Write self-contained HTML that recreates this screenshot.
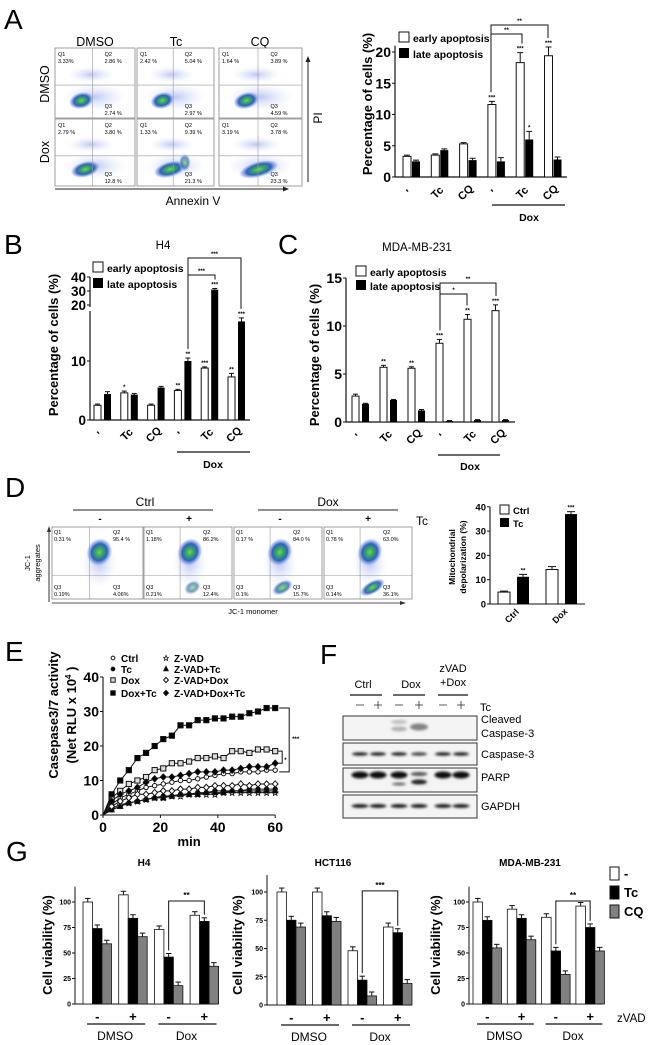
<!DOCTYPE html>
<html><head><meta charset="utf-8">
<style>
html,body{margin:0;padding:0;background:#fff;}
svg{display:block;font-family:"Liberation Sans",Arial,sans-serif;}
.b{font-weight:bold;}
</style></head>
<body>
<svg id="fig" width="650" height="1045" viewBox="0 0 650 1045" xmlns="http://www.w3.org/2000/svg">
<defs>
<radialGradient id="blob" cx="50%" cy="50%" r="50%">
<stop offset="0" stop-color="#7fd23a"/><stop offset="0.3" stop-color="#2fa860"/><stop offset="0.6" stop-color="#2f5fc8"/><stop offset="0.85" stop-color="#8fa6e6" stop-opacity="0.6"/><stop offset="1" stop-color="#c8d4f4" stop-opacity="0"/>
</radialGradient>
<radialGradient id="haze" cx="50%" cy="50%" r="50%">
<stop offset="0" stop-color="#9fb0ea" stop-opacity="0.7"/><stop offset="1" stop-color="#dfe6fa" stop-opacity="0"/>
</radialGradient>
<filter id="blur" x="-50%" y="-50%" width="200%" height="200%"><feGaussianBlur stdDeviation="1.4"/></filter>
</defs>

<text x="4" y="29" font-size="28">A</text>
<text x="4" y="254" font-size="28">B</text>
<text x="278" y="254" font-size="28">C</text>
<text x="5" y="497" font-size="28">D</text>
<text x="5" y="661" font-size="28">E</text>
<text x="320" y="664" font-size="28">F</text>
<text x="6" y="861" font-size="28">G</text>

<text x="95" y="46" font-size="12.5" text-anchor="middle">DMSO</text>
<text x="176" y="46" font-size="12.5" text-anchor="middle">Tc</text>
<text x="260" y="46" font-size="12.5" text-anchor="middle">CQ</text>
<text transform="translate(49,84) rotate(-90)" font-size="12.5" text-anchor="middle">DMSO</text>
<text transform="translate(49,152) rotate(-90)" font-size="12.5" text-anchor="middle">Dox</text>
<line x1="55" y1="189" x2="285" y2="189" stroke="#222" stroke-width="1"/>
<path d="M289,189 L283,186.5 L283,191.5Z" fill="#222"/>
<text x="193" y="205" font-size="12" text-anchor="middle">Annexin V</text>
<line x1="308" y1="182" x2="308" y2="61" stroke="#222" stroke-width="1"/>
<path d="M308,56 L305.5,62 L310.5,62Z" fill="#222"/>
<text transform="translate(322,118) rotate(-90)" font-size="12" text-anchor="middle">PI</text>

<text x="163" y="249" font-size="11.5" text-anchor="middle">H4</text>
<text x="417" y="251" font-size="11.5" text-anchor="middle">MDA-MB-231</text>

<text x="145" y="506" font-size="12" text-anchor="middle">Ctrl</text>
<line x1="73" y1="510" x2="213" y2="510" stroke="#222" stroke-width="1"/>
<text x="328" y="506" font-size="12" text-anchor="middle">Dox</text>
<line x1="258" y1="510" x2="398" y2="510" stroke="#222" stroke-width="1"/>
<text x="100" y="522" font-size="10" class="b" text-anchor="middle">-</text>
<text x="189" y="522" font-size="10" class="b" text-anchor="middle">+</text>
<text x="280" y="522" font-size="10" class="b" text-anchor="middle">-</text>
<text x="368" y="522" font-size="10" class="b" text-anchor="middle">+</text>
<text x="422" y="525" font-size="12" text-anchor="middle">Tc</text>
<line x1="52" y1="603" x2="402" y2="603" stroke="#555" stroke-width="1"/>
<path d="M406,603 L400,601 L400,605Z" fill="#333"/>
<text x="253" y="614" font-size="7.5" text-anchor="middle">JC-1 monomer</text>
<line x1="49" y1="602" x2="49" y2="531" stroke="#333" stroke-width="1"/>
<path d="M49,526 L47,532 L51,532Z" fill="#333"/>
<text transform="translate(30,563) rotate(-90)" font-size="7.5" text-anchor="middle">JC-1</text>
<text transform="translate(40,563) rotate(-90)" font-size="7.5" text-anchor="middle">aggregates</text>

<g id="flowA"></g>
<g id="chartA"></g>
<g id="chartB"></g>
<g id="chartC"></g>
<g id="flowD"></g>
<g id="chartD"></g>
<g id="chartE"></g>
<g id="blotF"></g>
<g id="chartG"></g>
</svg>

<script>
const aCategories=['-','Tc','CQ','-','Tc','CQ'];
const aEarly=[3.3,3.5,5.3,11.6,18.3,19.4];
const aLate=[2.5,4.3,2.7,2.5,6.0,2.8];
const aEarlyErr=[0.2,0.2,0.2,0.5,1.6,1.4];
const aLateErr=[0.2,0.2,0.3,0.6,1.3,0.4];
const aEarlyStars=['','','','***','***','***'];
const aLateStars=['','','','','*',''];
const aTicks=[0,5,10,15,20];

const bCategories=['-','Tc','CQ','-','Tc','CQ'];
const bEarly=[2.5,4.6,2.5,5.0,8.8,7.3];
const bLate=[4.4,4.3,5.5,10.0,31,16.7];
const bEarlyErr=[0.2,0.3,0.2,0.2,0.2,0.6];
const bLateErr=[0.4,0.2,0.2,0.5,0.8,0.6];
const bEarlyStars=['','*','','**','***','**'];
const bLateStars=['','','','**','***','***'];
const bTicks=[0,10,20,30,40];

const cCategories=['-','Tc','CQ','-','Tc','CQ'];
const cEarly=[2.7,5.7,5.6,8.2,10.7,11.6];
const cLate=[1.9,2.3,1.2,0.1,0.2,0.2];
const cEarlyErr=[0.2,0.2,0.15,0.4,0.5,0.6];
const cLateErr=[0.05,0.05,0.1,0.05,0.05,0.05];
const cEarlyStars=['','**','**','***','**','***'];
const cTicks=[0,5,10,15];

const dCategories=['Ctrl','Dox'];
const dCtrl=[4.9,14.2];
const dTc=[11.2,37.0];
const dCtrlErr=[0.4,1.2];
const dTcErr=[1.0,1.0];
const dTcStars=['**','***'];
const dTicks=[0,10,20,30,40];

const eTimes=[0,3,6,9,12,15,18,21,24,27,30,33,36,39,42,45,48,51,54,57,60];
const eCtrl=[0,3,5,6,7,8,8.5,9,9.5,10,10,10.5,11,11.5,12,12,12.5,12.5,12.5,13,13];
const eTc=[0,1.5,2.5,3.5,4,4.5,5,5.5,5.5,6,6,6.5,6.5,7,7,7,7,7.5,7.5,7.5,7.5];
const eDox=[0,5,7,9,10,11,13,13.5,15,15,15.5,16.5,16.5,17,16.5,18.5,18.5,18,19,19,18.5];
const eDoxTc=[0,6,10,13,16.5,18,20,22,23,26,26,27.5,27.5,28,28,28.5,28.5,29.5,30,31,31];
const eZvad=[0,2,3,3.5,4,4.5,5,5,5.5,5.5,6,6,6,6,6.5,6.5,6.5,6.5,6.5,6.5,6.5];
const eZvadTc=[0,1.5,2.5,3.5,4,4.5,5,5,5.5,6,6,6,6.5,6.5,6.5,7,7,7,7,7,7];
const eZvadDox=[0,2.5,4,5,6,6,6.5,7,7,7.5,7.5,8,8,8.5,8.5,8.5,9,8.5,9,9,9];
const eZvadDoxTc=[0,4,6,7,8,9.5,10.5,11,11,11.5,12,12.5,12.5,12.5,13,13,13.5,14,14,14,15];
const eTicksY=[0,10,20,30,40];
const eTicksX=[0,20,40,60];

const gConditions=['DMSO -','DMSO +','Dox -','Dox +'];
const gH4None=[100,107,73,87];
const gH4Tc=[74,84,46,81];
const gH4CQ=[59,66,18,37];
const gHctNone=[100,100,48,69];
const gHctTc=[75,79,22,64];
const gHctCQ=[69,74,8,19];
const gMdaNone=[100,93,85,96];
const gMdaTc=[82,84,52,75];
const gMdaCQ=[55,63,29,52];
const gTicks=[0,25,50,75,100];

const flowAQ1=['3.33%','2.42 %','1.64 %','2.79 %','1.33 %','3.19 %'];
const flowAQ2=['2.86 %','5.04 %','3.89 %','3.80 %','9.39 %','3.78 %'];
const flowAQ3=['2.74 %','2.97 %','4.59 %','12.8 %','21.3 %','23.3 %'];
const flowDQ1=['0.31 %','1.18%','0.17 %','0.78 %'];
const flowDQ2=['95.4 %','86.2%','84.0 %','63.0%'];
const flowDQ3L=['0.19%','0.21%','0.1%','0.14%'];
const flowDQ3R=['4.06%','12.4%','15.7%','36.1%'];

const NS='http://www.w3.org/2000/svg';
function mk(tag,parent,attrs){const e=document.createElementNS(NS,tag);for(const k in attrs)e.setAttribute(k,attrs[k]);parent.appendChild(e);return e;}
function txt(parent,x,y,s,size,extra){const t=mk('text',parent,Object.assign({x:x,y:y,'font-size':size},extra||{}));t.textContent=s;return t;}
function line(parent,x1,y1,x2,y2,w,c){return mk('line',parent,{x1:x1,y1:y1,x2:x2,y2:y2,stroke:c||'#111','stroke-width':w||1});}

(function(){
  const g=document.getElementById('flowA');
  const cols=[[55,80],[137,77],[219,83]], rows=[[48,70],[119,67]];
  let k=0;
  for(let r=0;r<2;r++)for(let c=0;c<3;c++){
    const x=cols[c][0],w=cols[c][1],y=rows[r][0],h=rows[r][1];
    const box=mk('g',g,{});
    
    
    mk('rect',box,{x:x,y:y,width:w,height:h,fill:'#fff',stroke:'#888','stroke-width':0.8});
    mk('ellipse',box,{cx:x+w*0.45,cy:y+h*0.38,rx:w*0.3,ry:h*0.12,fill:'url(#haze)'});
    mk('ellipse',box,{cx:x+w*0.5,cy:y+h*0.7,rx:w*0.4,ry:h*0.2,fill:'url(#haze)'});
    const shift=(r===1)?0.05*(c+1):0;
    mk('ellipse',box,{cx:x+w*(0.33+shift),cy:y+h*0.75,rx:w*(0.16+shift*0.6),ry:h*0.12,fill:'url(#blob)',transform:'rotate(-15 '+(x+w*(0.33+shift))+' '+(y+h*0.75)+')'});
    if(r===1&&c===1)mk('ellipse',box,{cx:x+w*0.62,cy:y+h*0.65,rx:6,ry:9,fill:'url(#blob)',opacity:0.7});
    line(box,x+w*0.47,y,x+w*0.47,y+h,0.6,'#999');
    const hy=y+h*(r===0?0.53:0.55);
    line(box,x,hy,x+w,hy,0.6,'#999');
    txt(box,x+3,y+8,'Q1',5.5);
    txt(box,x+3,y+15,flowAQ1[k],5.5);
    txt(box,x+w*0.62,y+8,'Q2',5.5);
    txt(box,x+w*0.62,y+15,flowAQ2[k],5.5);
    txt(box,x+w*0.62,y+h-10,'Q3',5.5);
    txt(box,x+w*0.62,y+h-3,flowAQ3[k],5.5);
    k++;
  }
})();

(function(){
  const g=document.getElementById('flowD');
  const xs=[[52,91],[144,88],[234,88],[324,88]], y=527, h=72;
  for(let i=0;i<4;i++){
    const x=xs[i][0],w=xs[i][1];
    const box=mk('g',g,{});
    
    
    mk('rect',box,{x:x,y:y,width:w,height:h,fill:'#fff',stroke:'#888','stroke-width':0.8});
    mk('ellipse',box,{cx:x+w*0.52,cy:y+h*0.5,rx:w*0.2,ry:h*0.35,fill:'url(#haze)'});
    mk('ellipse',box,{cx:x+w*0.52,cy:y+h*0.35,rx:w*0.14,ry:h*0.2,fill:'url(#blob)',transform:'rotate(25 '+(x+w*0.52)+' '+(y+h*0.35)+')'});
    if(i>0)mk('ellipse',box,{cx:x+w*0.55,cy:y+h*0.84,rx:w*(0.07+0.03*i),ry:h*0.09,fill:'url(#blob)',opacity:0.5+0.15*i,transform:'rotate(-30 '+(x+w*0.55)+' '+(y+h*0.84)+')'});
    line(box,x+w*0.41,y,x+w*0.41,y+h,0.6,'#999');
    line(box,x,y+h*0.67,x+w,y+h*0.67,0.6,'#999');
    txt(box,x+2,y+7,'Q1',5.5);
    txt(box,x+2,y+14,flowDQ1[i],5.5);
    txt(box,x+w*0.67,y+7,'Q2',5.5);
    txt(box,x+w*0.67,y+14,flowDQ2[i],5.5);
    txt(box,x+2,y+h-10,'Q3',5.5);
    txt(box,x+2,y+h-3,flowDQ3L[i],5.5);
    txt(box,x+w*0.67,y+h-10,'Q3',5.5);
    txt(box,x+w*0.67,y+h-3,flowDQ3R[i],5.5);
  }
})();

function pairChart(g,cfg){
  const {early,late,eErr,lErr,eStars,lStars,ticks,y,x0,step,bw,axisX,axisEnd,zeroY,cats}=cfg;
  const ax=line(g,axisX,cfg.axisTop,axisX,zeroY,1.2);
  
  
  const xa=line(g,axisX,zeroY,axisEnd,zeroY,1.2);
  
  
  ticks.forEach(t=>{
    const ty=y(t);
    line(g,axisX-3,ty,axisX,ty,1);
    const tl=txt(g,axisX-4,ty+5,String(t),cfg.tickSize||14,{'text-anchor':'end','class':'b'});
    
    
  });
  for(let i=0;i<early.length;i++){
    const xe=x0+i*step, xl=xe+bw+cfg.gap;
    const ye=y(early[i]), yl=y(late[i]);
    const r1=mk('rect',g,{x:xe,y:ye,width:bw,height:zeroY-ye,fill:'#fff',stroke:'#111','stroke-width':1});
    
    
    line(g,xe+bw/2,ye,xe+bw/2,y(early[i]+eErr[i]),1);
    line(g,xe+1,y(early[i]+eErr[i]),xe+bw-1,y(early[i]+eErr[i]),1);
    const r2=mk('rect',g,{x:xl,y:yl,width:bw,height:Math.max(zeroY-yl,1),fill:'#000'});
    
    
    line(g,xl+bw/2,yl,xl+bw/2,y(late[i]+lErr[i]),1);
    line(g,xl+1,y(late[i]+lErr[i]),xl+bw-1,y(late[i]+lErr[i]),1);
    if(eStars&&eStars[i])txt(g,xe+bw/2,y(early[i]+eErr[i])-2,eStars[i],6,{'text-anchor':'middle','class':'b'});
    if(lStars&&lStars[i])txt(g,xl+bw/2,y(late[i]+lErr[i])-2,lStars[i],6,{'text-anchor':'middle','class':'b'});
    const cx=xe+bw+cfg.gap/2, cy=zeroY+cfg.labOff;
    const cl=txt(g,cx,cy,cats[i]==='-'?'\'':cats[i],cfg.catSize||11,{'text-anchor':'middle','class':'b',transform:'rotate(-45 '+cx+' '+cy+')'});
    
    
  }
}
function legendPair(g,x,y1,y2,size){
  mk('rect',g,{x:x,y:y1-size+1,width:size-1,height:size-1,fill:'#fff',stroke:'#111','stroke-width':1});
  const l1=txt(g,x+size+3,y1,'early apoptosis',size*0.95,{'class':'b'});
  
  
  mk('rect',g,{x:x,y:y2-size+1,width:size-1,height:size-1,fill:'#000'});
  const l2=txt(g,x+size+3,y2,'late apoptosis',size*0.95,{'class':'b'});
  
  
}
function bracket(g,x1,x2,yTop,yA,yB,label){
  const p=mk('path',g,{d:'M'+x1+','+yA+' L'+x1+','+yTop+' L'+x2+','+yTop+' L'+x2+','+yB,fill:'none',stroke:'#111','stroke-width':1});
  
  
  txt(g,(x1+x2)/2,yTop-2,label,6,{'text-anchor':'middle','class':'b'});
}

(function(){
  const g=document.getElementById('chartA');
  const zeroY=177, y=v=>zeroY-v*6.25;
  pairChart(g,{early:aEarly,late:aLate,eErr:aEarlyErr,lErr:aLateErr,eStars:aEarlyStars,lStars:aLateStars,ticks:aTicks,y:y,x0:403,step:28.3,bw:8,gap:1,axisX:395,axisEnd:567,axisTop:y(21),zeroY:zeroY,cats:aCategories,labOff:18,tickSize:14});
  legendPair(g,399,42,58,11);
  const yl=txt(g,0,0,'Percentage of cells (%)',13,{'class':'b','text-anchor':'middle',transform:'translate(372,104) rotate(-90)'});
  
  
  bracket(g,491,522,34,y(aEarly[3]+aEarlyErr[3])-9,y(aEarly[4]+aEarlyErr[4])-9,'**');
  bracket(g,491,548,25,34,y(aEarly[5]+aEarlyErr[5])-9,'**');
  line(g,492,205,565,205,1.2);
  txt(g,529,221,'Dox',10.5,{'text-anchor':'middle','class':'b'});
})();

(function(){
  const g=document.getElementById('chartB');
  const zeroY=420;
  const y=v=>v<=19?zeroY-v*5.9:305-(v-20)*1.4;
  pairChart(g,{early:bEarly,late:bLate,eErr:bEarlyErr,lErr:bLateErr,eStars:bEarlyStars,lStars:bLateStars,ticks:bTicks,y:y,x0:94,step:26.8,bw:7,gap:3,axisX:90,axisEnd:250,axisTop:277,zeroY:zeroY,cats:bCategories,labOff:17,tickSize:13.5});
  mk('rect',g,{x:86,y:307,width:8,height:4,fill:'#fff'});
  legendPair(g,93,272,288,11);
  const yl=txt(g,0,0,'Percentage of cells (%)',13,{'class':'b','text-anchor':'middle',transform:'translate(58,345) rotate(-90)'});
  
  
  bracket(g,188,215,275,y(bLate[3]+bLateErr[3])-9,y(bLate[4]+bLateErr[4])-9,'***');
  bracket(g,188,241,258,275,y(bLate[5]+bLateErr[5])-9,'***');
  line(g,177,452,250,452,1.2);
  txt(g,213,468,'Dox',10.5,{'text-anchor':'middle','class':'b'});
})();

(function(){
  const g=document.getElementById('chartC');
  const zeroY=422, y=v=>zeroY-v*9.6;
  pairChart(g,{early:cEarly,late:cLate,eErr:cEarlyErr,lErr:cLateErr,eStars:cEarlyStars,lStars:null,ticks:cTicks,y:y,x0:352,step:28,bw:7,gap:3,axisX:346,axisEnd:515,axisTop:278,zeroY:zeroY,cats:cCategories,labOff:17,tickSize:14});
  legendPair(g,356,276,290,11);
  const yl=txt(g,0,0,'Percentage of cells (%)',13,{'class':'b','text-anchor':'middle',transform:'translate(319,355) rotate(-90)'});
  
  
  bracket(g,440,467,294,y(cEarly[3]+cEarlyErr[3])-9,y(cEarly[4]+cEarlyErr[4])-9,'*');
  bracket(g,440,496,283,294,y(cEarly[5]+cEarlyErr[5])-9,'**');
  line(g,438,455,500,455,1.2);
  txt(g,470,470,'Dox',10.5,{'text-anchor':'middle','class':'b'});
})();

(function(){
  const g=document.getElementById('chartD');
  const zeroY=604, y=v=>zeroY-v*2.43;
  const ax=line(g,490,y(40),490,zeroY,1.1);
  
  
  line(g,490,zeroY,585,zeroY,1.1);
  dTicks.forEach(t=>{line(g,487,y(t),490,y(t),1);txt(g,486,y(t)+3.5,String(t),9.5,{'text-anchor':'end','class':'b'});});
  const xs=[498,546];
  for(let i=0;i<dCategories.length;i++){
    const xc=xs[i];
    const r1=mk('rect',g,{x:xc,y:y(dCtrl[i]),width:12,height:zeroY-y(dCtrl[i]),fill:'#fff',stroke:'#111','stroke-width':1});
    
    
    line(g,xc+6,y(dCtrl[i]),xc+6,y(dCtrl[i]+dCtrlErr[i]),1);line(g,xc+2,y(dCtrl[i]+dCtrlErr[i]),xc+10,y(dCtrl[i]+dCtrlErr[i]),1);
    const r2=mk('rect',g,{x:xc+19,y:y(dTc[i]),width:12,height:zeroY-y(dTc[i]),fill:'#000'});
    
    
    line(g,xc+25,y(dTc[i]),xc+25,y(dTc[i]+dTcErr[i]),1);line(g,xc+21,y(dTc[i]+dTcErr[i]),xc+29,y(dTc[i]+dTcErr[i]),1);
    txt(g,xc+25,y(dTc[i]+dTcErr[i])-2,dTcStars[i],6,{'text-anchor':'middle','class':'b'});
    const cx=xc+16,cy=zeroY+14;
    const cl=txt(g,cx,cy,dCategories[i],9,{'text-anchor':'middle','class':'b',transform:'rotate(-45 '+cx+' '+cy+')'});
    
    
  }
  mk('rect',g,{x:500,y:505,width:9,height:9,fill:'#fff',stroke:'#111'});
  txt(g,513,514,'Ctrl',9.5,{'class':'b'});
  mk('rect',g,{x:500,y:518,width:9,height:9,fill:'#000'});
  txt(g,513,527,'Tc',9.5,{'class':'b'});
  const y1=txt(g,0,0,'Mitochondrial',8.5,{'class':'b','text-anchor':'middle',transform:'translate(455,557) rotate(-90)'});
  
  
  txt(g,0,0,'depolarization (%)',8.5,{'class':'b','text-anchor':'middle',transform:'translate(466,557) rotate(-90)'});
})();

(function(){
  const g=document.getElementById('chartE');
  const xE=t=>103+t*2.87, yE=v=>815-v*3.45;
  const ax=line(g,103,yE(40),103,815,1.1);
  
  
  line(g,103,815,xE(60),815,1.1);
  eTicksY.forEach(t=>{line(g,100,yE(t),103,yE(t),1);txt(g,99,yE(t)+5,String(t),14,{'text-anchor':'end','class':'b'});});
  eTicksX.forEach(t=>{line(g,xE(t),815,xE(t),818,1);txt(g,xE(t),832,String(t),14,{'text-anchor':'middle','class':'b'});});
  txt(g,xE(30),846,'min',13,{'text-anchor':'middle','class':'b'});
  const yl=txt(g,0,0,'Casepase3/7 activity',13,{'class':'b','text-anchor':'middle',transform:'translate(58,715) rotate(-90)'});
  
  
  const yl2=mk('text',g,{'font-size':13,'class':'b','text-anchor':'middle',transform:'translate(76,715) rotate(-90)'});
  yl2.innerHTML='(Net RLU x 10<tspan font-size="8" dy="-5">4</tspan><tspan dy="5"> )</tspan>';
  const series=[
    {name:'Ctrl',d:eCtrl,m:'circle',f:'#fff'},
    {name:'Tc',d:eTc,m:'circle',f:'#000'},
    {name:'Dox',d:eDox,m:'square',f:'#ddd'},
    {name:'Dox+Tc',d:eDoxTc,m:'square',f:'#000'},
    {name:'Z-VAD',d:eZvad,m:'star',f:'#fff'},
    {name:'Z-VAD+Tc',d:eZvadTc,m:'tri',f:'#000'},
    {name:'Z-VAD+Dox',d:eZvadDox,m:'diamond',f:'#fff'},
    {name:'Z-VAD+Dox+Tc',d:eZvadDoxTc,m:'diamond',f:'#000'}
  ];
  function marker(p,m,x,y,f,s){
    if(m==='circle')return mk('circle',p,{cx:x,cy:y,r:s*0.85,fill:f,stroke:'#111','stroke-width':1});
    if(m==='square')return mk('rect',p,{x:x-s,y:y-s,width:2*s,height:2*s,fill:f,stroke:'#111','stroke-width':1});
    if(m==='diamond')return mk('path',p,{d:'M'+x+','+(y-s*1.2)+'L'+(x+s*1.1)+','+y+'L'+x+','+(y+s*1.2)+'L'+(x-s*1.1)+','+y+'Z',fill:f,stroke:'#111','stroke-width':1});
    if(m==='tri')return mk('path',p,{d:'M'+x+','+(y-s*1.2)+'L'+(x+s)+','+(y+s*0.8)+'L'+(x-s)+','+(y+s*0.8)+'Z',fill:f,stroke:'#111','stroke-width':1});
    return mk('path',p,{d:'M'+x+','+(y-s*1.2)+'L'+(x+s*0.4)+','+(y-s*0.3)+'L'+(x+s*1.1)+','+(y-s*0.2)+'L'+(x+s*0.5)+','+(y+s*0.4)+'L'+(x+s*0.7)+','+(y+s*1.1)+'L'+x+','+(y+s*0.7)+'L'+(x-s*0.7)+','+(y+s*1.1)+'L'+(x-s*0.5)+','+(y+s*0.4)+'L'+(x-s*1.1)+','+(y-s*0.2)+'L'+(x-s*0.4)+','+(y-s*0.3)+'Z',fill:f,stroke:'#111','stroke-width':0.8});
  }
  series.forEach(s=>{
    const sg=mk('g',g,{});
    
    
    const pts=s.d.map((v,i)=>xE(eTimes[i])+','+yE(v)).join(' ');
    mk('polyline',sg,{points:pts,fill:'none',stroke:'#111','stroke-width':1});
    s.d.forEach((v,i)=>{
      if(i===0)return;
      line(sg,xE(eTimes[i]),yE(v),xE(eTimes[i]),yE(v+0.8),0.8);
      const mm=marker(sg,s.m,xE(eTimes[i]),yE(v),s.f,2.6);
      
      
    });
  });
  const lx=[113,166], ly=[661,672,683,696];
  series.forEach((s,i)=>{
    const cx=lx[Math.floor(i/4)], cy=ly[i%4];
    marker(g,s.m,cx,cy-3,s.f,2.2);
    const t=txt(g,cx+8,cy+1,s.name,10,{'class':'b'});
    
    
  });
  const xe=xE(60)+4;
  mk('path',g,{d:'M'+xe+','+yE(eDoxTc[20])+' L'+(xe+10)+','+yE(eDoxTc[20])+' L'+(xe+10)+','+yE(eCtrl[20]-0.5)+' L'+xe+','+yE(eCtrl[20]-0.5),fill:'none',stroke:'#111','stroke-width':1});
  txt(g,xe+13,yE(22)+2,'***',6,{'class':'b'});
  mk('path',g,{d:'M'+(xe-1)+','+yE(eDox[20])+' L'+(xe+3)+','+yE(eDox[20])+' L'+(xe+3)+','+yE(eZvadDoxTc[20])+' L'+(xe-1)+','+yE(eZvadDoxTc[20]),fill:'none',stroke:'#111','stroke-width':1});
  txt(g,xe+5,yE(16)+2,'*',6,{'class':'b'});
})();

(function(){
  const g=document.getElementById('blotF');
  const lanes=[360,378,399,419,443,461];
  const hdr=[['Ctrl',363,688,350,382],['Dox',411,688,393,425]];
  hdr.forEach(h=>{txt(g,h[1],h[2],h[0],11,{'text-anchor':'middle'});line(g,h[3],695,h[4],695,1.2);});
  txt(g,453,672,'zVAD',11,{'text-anchor':'middle'});
  txt(g,453,686,'+Dox',11,{'text-anchor':'middle'});
  line(g,438,695,468,695,1.2);
  lanes.forEach((x,i)=>{
    if(i%2===0)line(g,x-4,705,x+4,705,0.8,'#333');
    else {line(g,x-4,705,x+4,705,0.8,'#333');line(g,x,701,x,709,0.8,'#333');}
  });
  txt(g,480,711,'Tc',11);
  const blots=[[716,24,'Cleaved',723],[743,22,'Caspase-3',758],[768,24,'PARP',781],[795,23,'GAPDH',810]];
  blots.forEach((b,i)=>{
    const r=mk('rect',g,{x:343,y:b[0],width:134,height:b[1],fill:'#f4f4f4',stroke:'#333','stroke-width':1});
    
    
    txt(g,481,b[3],b[2],11);
  });
  txt(g,481,737,'Caspase-3',11);
  const bg=mk('g',g,{filter:'url(#blur)'});
  mk('ellipse',bg,{cx:lanes[2],cy:722,rx:8,ry:2,fill:'#999',opacity:0.6});
  mk('ellipse',bg,{cx:lanes[2],cy:729,rx:8,ry:2.5,fill:'#888',opacity:0.6});
  mk('ellipse',bg,{cx:lanes[3],cy:727,rx:9,ry:3.5,fill:'#666',opacity:0.8});
  lanes.forEach((x,i)=>{
    mk('ellipse',bg,{cx:x,cy:754,rx:8,ry:1.8,fill:i===3?'#444':'#222'});
    mk('ellipse',bg,{cx:x,cy:i===3?774:775,rx:8.5,ry:i===3?2:3.5,fill:i===3?'#555':'#111'});
    mk('ellipse',bg,{cx:x,cy:806,rx:8.5,ry:2,fill:'#222'});
  });
  mk('ellipse',bg,{cx:lanes[2],cy:784,rx:7,ry:1.5,fill:'#666'});
  mk('ellipse',bg,{cx:lanes[3],cy:782,rx:8,ry:2.5,fill:'#222'});
})();

(function(){
  const g=document.getElementById('chartG');
  const charts=[
    {title:'H4',tx:144,none:gH4None,tc:gH4Tc,cq:gH4CQ,ax:75,end:217,zero:1004,k:1.02,x0:83,step:35.7,star:'**',ylx:52},
    {title:'HCT116',tx:333,none:gHctNone,tc:gHctTc,cq:gHctCQ,ax:267,end:412,zero:1005,k:1.13,x0:277,step:35.5,star:'***',ylx:242},
    {title:'MDA-MB-231',tx:530,none:gMdaNone,tc:gMdaTc,cq:gMdaCQ,ax:469,end:602,zero:1004,k:1.02,x0:473,step:34.3,star:'**',ylx:440}
  ];
  const bw=9.5;
  charts.forEach((c,ci)=>{
    const cg=mk('g',g,{});
    
    
    const y=v=>c.zero-v*c.k;
    txt(cg,c.tx,866,c.title,10,{'text-anchor':'middle','class':'b'});
    line(cg,c.ax,c.zero-115*c.k,c.ax,c.zero,1);
    line(cg,c.ax,c.zero,c.end,c.zero,1);
    gTicks.forEach(t=>{line(cg,c.ax-3,y(t),c.ax,y(t),1);txt(cg,c.ax-4,y(t)+2.5,String(t),7,{'text-anchor':'end','class':'b'});});
    const yl=txt(cg,0,0,'Cell viability (%)',13,{'class':'b','text-anchor':'middle',transform:'translate('+c.ylx+',945) rotate(-90)'});
    
    
    const sets=[[c.none,'#fff'],[c.tc,'#000'],[c.cq,'#808080']];
    for(let i=0;i<gConditions.length;i++){
      const gx=c.x0+i*c.step;
      sets.forEach((s,j)=>{
        const v=s[0][i], bx=gx+j*bw;
        const r=mk('rect',cg,{x:bx,y:y(v),width:bw,height:c.zero-y(v),fill:s[1],stroke:'#111','stroke-width':0.8});
        
        
        line(cg,bx+bw/2,y(v),bx+bw/2,y(v+3.5),1);
        line(cg,bx+2,y(v+3.5),bx+bw-2,y(v+3.5),1);
      });
      txt(cg,gx+bw*1.5,c.zero+17,i%2===0?'-':'+',13,{'text-anchor':'middle','class':'b'});
    }
    line(cg,c.x0+4,c.zero+20,c.x0+c.step+3*bw-2,c.zero+20,1.2);
    line(cg,c.x0+2*c.step+4,c.zero+20,c.x0+3*c.step+3*bw-2,c.zero+20,1.2);
    txt(cg,c.x0+c.step/2+1.5*bw,c.zero+36,'DMSO',12,{'text-anchor':'middle'});
    txt(cg,c.x0+2.5*c.step+1.5*bw,c.zero+36,'Dox',12,{'text-anchor':'middle'});
    const x1=c.x0+2*c.step+1.5*bw, x2=c.x0+3*c.step+1.5*bw;
    const top=c.zero-101*c.k;
    mk('path',cg,{d:'M'+x1+','+(y(c.tc[2]+3.5)-3)+' L'+x1+','+top+' L'+x2+','+top+' L'+x2+','+(y(c.tc[3]+3.5)-3),fill:'none',stroke:'#111','stroke-width':1});
    txt(cg,(x1+x2)/2,top-3,c.star,8,{'text-anchor':'middle','class':'b'});
  });
  const leg=[['-','#fff'],['Tc','#000'],['CQ','#808080']];
  leg.forEach((l,i)=>{
    const yy=867+i*19;
    mk('rect',g,{x:610,y:yy,width:9,height:13,fill:l[1],stroke:'#111','stroke-width':1});
    const t=txt(g,624,yy+11,l[0],13,{'class':'b'});
    
    
  });
  txt(g,617,1022,'zVAD',11.5,{'text-anchor':'start'});
})();
</script>
</body></html>
